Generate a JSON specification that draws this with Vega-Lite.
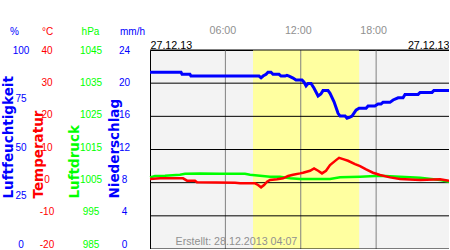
{
  "$schema": "https://vega.github.io/schema/vega-lite/v6.json",
  "width": 299,
  "height": 199,
  "autosize": {"type": "none"},
  "padding": {"left": 150, "top": 50, "right": 0, "bottom": 0},
  "background": "white",
  "config": {
    "view": {"fill": "#f3f3f3", "stroke": "#000000", "strokeWidth": 1},
    "axis": {
      "domain": false, "ticks": false, "tickSize": 0, "grid": false,
      "labelFont": "Liberation Sans", "titleFont": "Liberation Sans",
      "labelFontSize": 10, "titleFontSize": 10, "titleFontWeight": "normal",
      "titlePadding": 0
    }
  },
  "datasets": {
    "daylight": [{"start": 8.2, "end": 16.65}],
    "vgrid": [{"t": 6}, {"t": 12}, {"t": 18}],
    "hgrid": [{"v": -20}, {"v": -10}, {"v": 0}, {"v": 10}, {"v": 20}, {"v": 30}, {"v": 40}],
    "pressure": [
      {"t": 0, "p": 1006.6}, {"t": 0.4, "p": 1007.0}, {"t": 1.19, "p": 1007.1}, {"t": 2.39, "p": 1007.4},
      {"t": 2.79, "p": 1007.7}, {"t": 3.98, "p": 1007.8}, {"t": 5.57, "p": 1007.7}, {"t": 7.56, "p": 1007.7},
      {"t": 7.96, "p": 1007.4}, {"t": 8.76, "p": 1007.1}, {"t": 9.55, "p": 1006.8}, {"t": 10.35, "p": 1006.8},
      {"t": 11.15, "p": 1006.3}, {"t": 11.94, "p": 1006.1}, {"t": 14.33, "p": 1006.1}, {"t": 15.13, "p": 1006.6},
      {"t": 16.72, "p": 1006.8}, {"t": 18.31, "p": 1007.1}, {"t": 19.9, "p": 1006.8}, {"t": 21.5, "p": 1006.5},
      {"t": 23.09, "p": 1005.8}, {"t": 23.8, "p": 1005.3}
    ],
    "temperature": [
      {"t": 0, "c": 1.1}, {"t": 0.8, "c": 1.3}, {"t": 2.63, "c": 1.3}, {"t": 2.95, "c": 0.6}, {"t": 3.58, "c": 0.6},
      {"t": 3.74, "c": 0.1}, {"t": 6.77, "c": 0.0}, {"t": 7.17, "c": -0.2}, {"t": 8.36, "c": -0.2}, {"t": 8.6, "c": -0.7},
      {"t": 8.84, "c": -1.4}, {"t": 9.08, "c": -0.7}, {"t": 9.32, "c": 0.3}, {"t": 9.55, "c": 0.8}, {"t": 10.11, "c": 1.0},
      {"t": 10.59, "c": 1.3}, {"t": 10.99, "c": 2.0}, {"t": 11.39, "c": 2.4}, {"t": 11.94, "c": 2.8}, {"t": 12.18, "c": 3.0},
      {"t": 12.74, "c": 3.6}, {"t": 13.06, "c": 4.3}, {"t": 13.38, "c": 3.6}, {"t": 13.69, "c": 2.8}, {"t": 14.01, "c": 3.6},
      {"t": 14.33, "c": 5.3}, {"t": 14.81, "c": 6.8}, {"t": 15.05, "c": 7.5}, {"t": 15.37, "c": 7.1}, {"t": 15.76, "c": 6.6},
      {"t": 16.32, "c": 5.6}, {"t": 16.72, "c": 5.0}, {"t": 17.2, "c": 4.0}, {"t": 17.75, "c": 3.0}, {"t": 18.31, "c": 2.3},
      {"t": 19.11, "c": 1.6}, {"t": 19.9, "c": 1.1}, {"t": 21.5, "c": 0.8}, {"t": 23.09, "c": 1.0}, {"t": 23.8, "c": 0.6}
    ],
    "humidity": [
      {"t": 0, "h": 88.8}, {"t": 2.47, "h": 88.8}, {"t": 2.55, "h": 87.8}, {"t": 3.18, "h": 87.8}, {"t": 3.26, "h": 86.9},
      {"t": 8.68, "h": 86.9}, {"t": 8.84, "h": 86.0}, {"t": 9.0, "h": 86.9}, {"t": 9.24, "h": 87.8}, {"t": 9.39, "h": 88.8},
      {"t": 9.63, "h": 88.8}, {"t": 9.79, "h": 87.8}, {"t": 10.27, "h": 87.8}, {"t": 10.43, "h": 86.9}, {"t": 10.75, "h": 86.9},
      {"t": 10.9, "h": 87.3}, {"t": 11.07, "h": 86.9}, {"t": 11.39, "h": 85.9}, {"t": 11.62, "h": 84.9}, {"t": 12.1, "h": 84.9},
      {"t": 12.26, "h": 83.8}, {"t": 12.42, "h": 82.0}, {"t": 12.58, "h": 83.2}, {"t": 12.82, "h": 83.2}, {"t": 13.06, "h": 80.8},
      {"t": 13.38, "h": 76.9}, {"t": 13.6, "h": 77.9}, {"t": 13.77, "h": 79.6}, {"t": 14.17, "h": 79.6}, {"t": 14.33, "h": 78.2},
      {"t": 14.65, "h": 74.0}, {"t": 14.97, "h": 68.2}, {"t": 15.13, "h": 66.8}, {"t": 15.53, "h": 66.8}, {"t": 15.68, "h": 65.7},
      {"t": 15.92, "h": 66.3}, {"t": 16.08, "h": 66.8}, {"t": 16.4, "h": 69.8}, {"t": 16.64, "h": 70.7}, {"t": 17.2, "h": 70.7},
      {"t": 17.36, "h": 71.9}, {"t": 17.9, "h": 71.9}, {"t": 18.15, "h": 72.9}, {"t": 18.39, "h": 72.9}, {"t": 18.55, "h": 73.7},
      {"t": 19.1, "h": 73.7}, {"t": 19.35, "h": 74.9}, {"t": 19.75, "h": 76.0}, {"t": 20.14, "h": 76.0}, {"t": 20.3, "h": 77.7},
      {"t": 21.34, "h": 77.7}, {"t": 21.5, "h": 78.7}, {"t": 22.45, "h": 78.7}, {"t": 22.6, "h": 79.7}, {"t": 23.8, "h": 79.7}
    ],
    "precipitation": [{"t": 0, "mm": 0}, {"t": 23.8, "mm": 0}]
  },
  "layer": [
    {
      "data": {"name": "daylight"},
      "mark": {"type": "rect", "color": "#ffffa0"},
      "encoding": {
        "x": {
          "field": "start", "type": "quantitative",
          "scale": {"domain": [0, 23.8], "nice": false, "zero": false},
          "axis": {
            "orient": "top", "values": [6, 12, 18],
            "labelExpr": "(datum.value < 10 ? '0' : '') + datum.value + ':00'",
            "labelColor": "#909090", "labelFontSize": 10.7, "labelPadding": 14.5, "labelOffset": -3,
            "labelFlush": false, "title": null
          }
        },
        "x2": {"field": "end"}
      }
    },
    {
      "data": {"name": "vgrid"},
      "mark": {"type": "rule", "color": "#808080", "strokeWidth": 1},
      "encoding": {
        "x": {
          "field": "t", "type": "quantitative",
          "scale": {"domain": [0, 23.8], "nice": false, "zero": false},
          "axis": {
            "orient": "top", "values": [0, 23.8], "labelExpr": "'27.12.13'",
            "labelFlush": true, "labelColor": "#000000", "labelFontSize": 10.7, "labelPadding": 0,
            "title": null
          }
        }
      }
    },
    {
      "data": {"name": "hgrid"},
      "mark": {"type": "rule", "color": "#000000", "strokeWidth": 1},
      "encoding": {
        "y": {
          "field": "v", "type": "quantitative",
          "scale": {"domain": [-20, 40], "nice": false, "zero": false},
          "axis": {
            "orient": "left", "labels": false, "title": "Erstellt: 28.12.2013 04:07", "zindex": 1,
            "titleAngle": 0, "titleX": 25, "titleY": 194, "titleAlign": "left", "titleBaseline": "alphabetic",
            "titleColor": "#909090", "titleFontSize": 10.7
          }
        }
      }
    },
    {
      "data": {"name": "pressure"},
      "mark": {"type": "line", "color": "#00ff00", "strokeWidth": 2.5},
      "encoding": {
        "x": {
          "field": "t", "type": "quantitative",
          "scale": {"domain": [0, 23.8], "nice": false, "zero": false},
          "axis": {
            "orient": "top", "labels": false, "title": "hPa", "titleX": -60, "titleY": -16,
            "titleAlign": "center", "titleBaseline": "alphabetic", "titleColor": "#00ff00"
          }
        },
        "y": {
          "field": "p", "type": "quantitative",
          "scale": {"domain": [985, 1045], "nice": false, "zero": false},
          "axis": {
            "orient": "left", "values": [985, 995, 1005, 1015, 1025, 1035, 1045],
            "labelExpr": "'' + datum.value", "labelOffset": {"expr": "-(1045 - datum.value) / 12"},
            "labelAlign": "center", "labelPadding": 59.5, "labelColor": "#00ff00",
            "title": "Luftdruck", "titleColor": "#00ff00", "titleAngle": 270, "titleAlign": "left",
            "titleBaseline": "middle", "titleX": -76, "titleY": 148,
            "titleFont": "DejaVu Sans", "titleFontWeight": "bold", "titleFontSize": 13.5
          }
        }
      }
    },
    {
      "data": {"name": "temperature"},
      "mark": {"type": "line", "color": "#ff0000", "strokeWidth": 2.5},
      "encoding": {
        "x": {
          "field": "t", "type": "quantitative",
          "scale": {"domain": [0, 23.8], "nice": false, "zero": false},
          "axis": {
            "orient": "top", "labels": false, "title": "°C", "titleX": -103, "titleY": -16,
            "titleAlign": "center", "titleBaseline": "alphabetic", "titleColor": "#ff0000"
          }
        },
        "y": {
          "field": "c", "type": "quantitative",
          "scale": {"domain": [-20, 40], "nice": false, "zero": false},
          "axis": {
            "orient": "left", "values": [-20, -10, 0, 10, 20, 30, 40],
            "labelExpr": "'' + datum.value", "labelOffset": {"expr": "-(40 - datum.value) / 12"},
            "labelAlign": "center", "labelPadding": 103.5, "labelColor": "#ff0000",
            "title": "Temperatur", "titleColor": "#ff0000", "titleAngle": 270, "titleAlign": "left",
            "titleBaseline": "middle", "titleX": -112, "titleY": 148,
            "titleFont": "DejaVu Sans", "titleFontWeight": "bold", "titleFontSize": 13.5
          }
        }
      }
    },
    {
      "data": {"name": "humidity"},
      "mark": {"type": "line", "color": "#0000ff", "strokeWidth": 3},
      "encoding": {
        "x": {
          "field": "t", "type": "quantitative",
          "scale": {"domain": [0, 23.8], "nice": false, "zero": false},
          "axis": {
            "orient": "top", "labels": false, "title": "%", "titleX": -136, "titleY": -16,
            "titleAlign": "center", "titleBaseline": "alphabetic", "titleColor": "#0000ff"
          }
        },
        "y": {
          "field": "h", "type": "quantitative",
          "scale": {"domain": [0, 100], "nice": false, "zero": false},
          "axis": {
            "orient": "left", "values": [0, 25, 50, 75, 100],
            "labelExpr": "'' + datum.value", "labelOffset": {"expr": "-(100 - datum.value) / 20"},
            "labelAlign": "center", "labelPadding": 129.5, "labelColor": "#0000ff",
            "title": "Luftfeuchtigkeit", "titleColor": "#0000ff", "titleAngle": 270, "titleAlign": "left",
            "titleBaseline": "middle", "titleX": -142, "titleY": 148,
            "titleFont": "DejaVu Sans", "titleFontWeight": "bold", "titleFontSize": 13.5
          }
        }
      }
    },
    {
      "data": {"name": "precipitation"},
      "mark": {"type": "line", "color": "#0000ff", "strokeWidth": 1, "opacity": 0},
      "encoding": {
        "x": {
          "field": "t", "type": "quantitative",
          "scale": {"domain": [0, 23.8], "nice": false, "zero": false},
          "axis": {
            "orient": "top", "labels": false, "title": "mm/h", "titleX": -18, "titleY": -16,
            "titleAlign": "center", "titleBaseline": "alphabetic", "titleColor": "#0000ff"
          }
        },
        "y": {
          "field": "mm", "type": "quantitative",
          "scale": {"domain": [0, 24], "nice": false, "zero": false},
          "axis": {
            "orient": "left", "values": [0, 4, 8, 12, 16, 20, 24],
            "labelExpr": "'' + datum.value", "labelOffset": {"expr": "-(24 - datum.value) / 4.8"},
            "labelAlign": "center", "labelPadding": 26, "labelColor": "#0000ff",
            "title": "Niederschlag", "titleColor": "#0000ff", "titleAngle": 270, "titleAlign": "left",
            "titleBaseline": "middle", "titleX": -36, "titleY": 148,
            "titleFont": "DejaVu Sans", "titleFontWeight": "bold", "titleFontSize": 13.5
          }
        }
      }
    }
  ],
  "resolve": {
    "scale": {"y": "independent"},
    "axis": {"x": "independent", "y": "independent"}
  }
}
